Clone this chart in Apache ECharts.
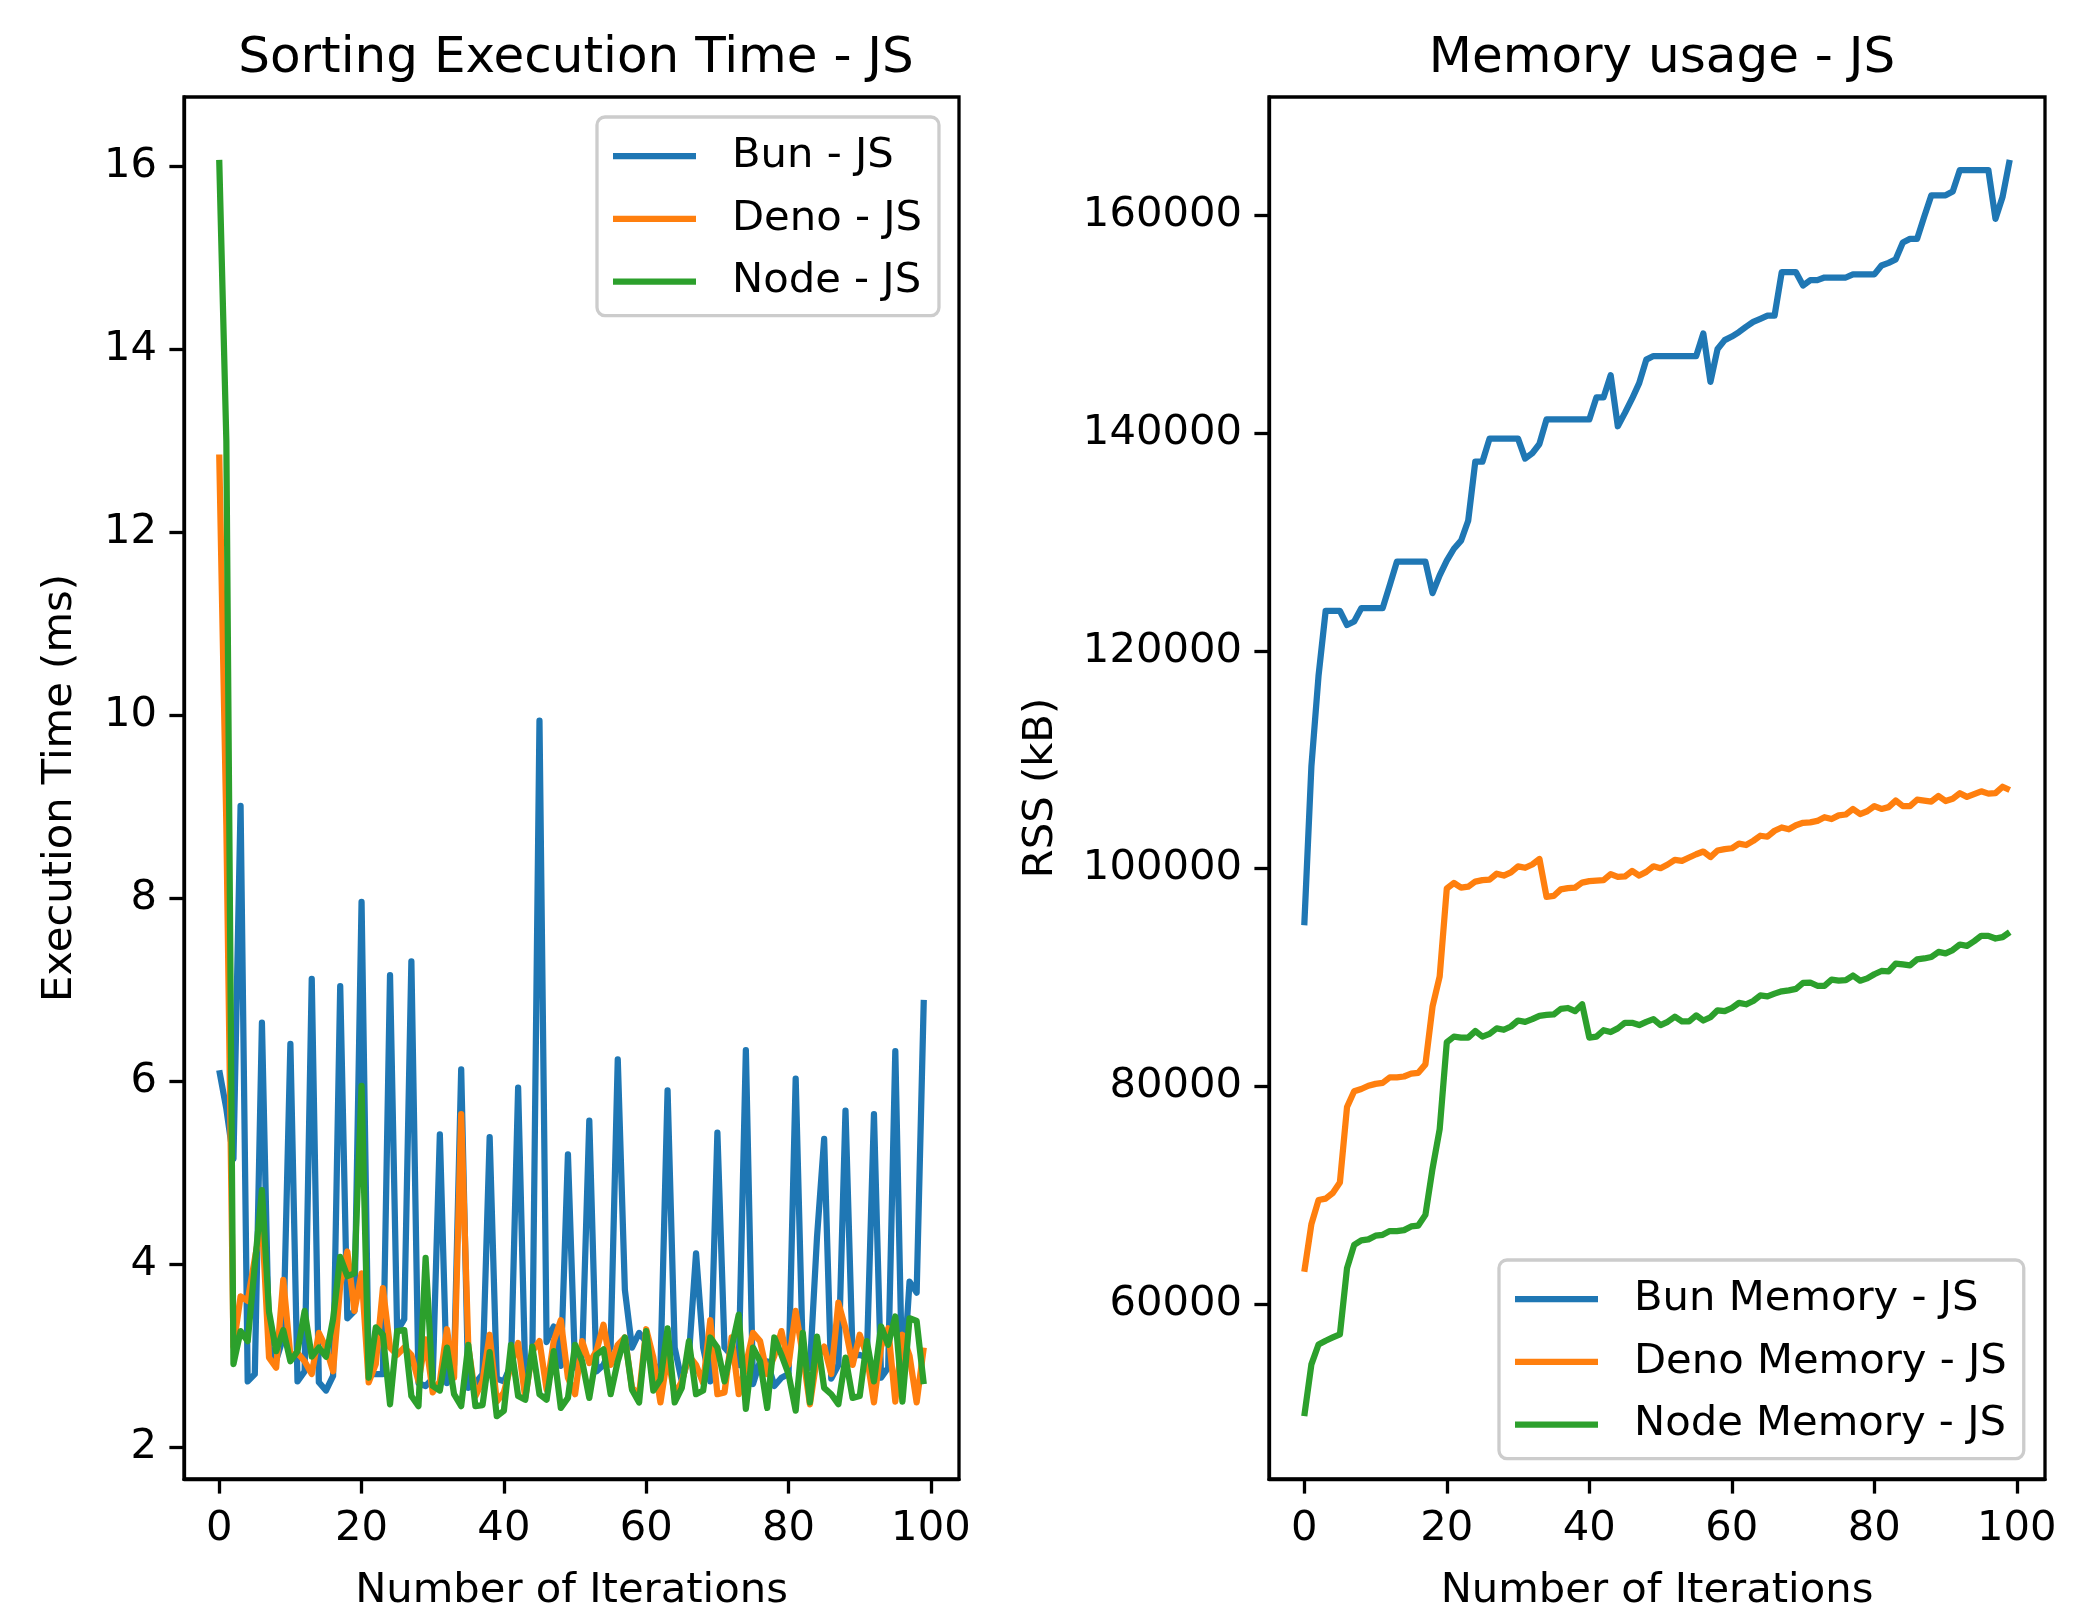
<!DOCTYPE html>
<html>
<head>
<meta charset="utf-8">
<script src="https://cdn.jsdelivr.net/npm/echarts@6/dist/echarts.min.js"></script>
<style>
html,body{margin:0;padding:0;background:#fff;}
#chart{width:2084px;height:1620px;}
</style>
</head>
<body>
<div id="chart"></div>
<script>
// ---------- DATA ----------
const iterations = Array.from({length: 100}, (_, i) => i);

const bunTime = [6.12,5.7,5.15,9.01,2.72,2.8,6.64,3.1,2.95,3.2,
6.41,2.72,2.83,7.12,2.71,2.62,2.78,7.04,3.41,3.49,
7.96,2.8,2.8,2.8,7.16,3.27,3.4,7.31,2.7,2.67,
2.75,5.42,2.7,2.9,6.13,2.65,2.7,2.8,5.39,2.75,
2.72,2.9,5.93,2.8,3.0,9.94,3.15,3.32,2.89,5.2,
2.87,3.0,5.57,2.83,2.9,3.1,6.24,3.72,3.09,3.25,
3.15,2.9,2.85,5.9,3.09,2.72,3.0,4.12,3.09,2.72,
5.44,3.09,3.0,2.9,6.34,2.69,2.94,2.94,2.67,2.76,
2.8,6.03,3.0,2.87,4.3,5.37,2.75,2.9,5.68,3.0,
3.01,2.98,5.64,2.76,2.87,6.33,2.6,3.81,3.69,6.89];

const denoTime = [12.85,8.8,3.1,3.65,3.6,4.06,4.5,2.98,2.87,3.83,
3.0,3.03,2.94,2.8,3.25,3.09,2.83,3.77,4.14,3.49,
3.9,2.71,2.91,3.74,3.09,3.01,3.09,3.01,2.72,3.18,
2.6,2.72,3.29,2.76,5.64,3.1,2.56,2.72,3.23,2.5,
2.6,2.9,3.14,2.54,3.05,3.16,2.63,3.16,3.39,2.76,
2.58,3.16,2.92,3.05,3.34,2.9,3.12,3.2,2.65,2.58,
3.29,2.98,2.49,3.0,2.58,2.72,3.0,2.9,2.7,3.39,
2.58,2.6,3.2,2.58,2.9,3.25,3.16,2.8,3.0,3.27,
2.9,3.49,3.01,2.47,2.98,3.1,2.8,3.58,3.3,2.9,
3.23,3.0,2.49,3.1,3.3,2.5,3.23,3.0,2.49,3.09];

const nodeTime = [16.07,13.0,2.91,3.27,3.16,3.99,4.81,3.48,3.05,3.28,
2.94,3.05,3.49,2.99,3.09,2.99,3.4,4.08,3.87,3.9,
5.95,2.76,3.31,3.23,2.47,3.27,3.28,2.56,2.45,4.07,
2.67,2.62,3.09,2.58,2.45,3.12,2.45,2.46,3.04,2.34,
2.40,3.12,2.56,2.52,3.10,2.58,2.52,3.05,2.43,2.54,
3.12,2.94,2.54,3.01,3.07,2.58,2.94,3.2,2.63,2.49,
3.27,2.62,2.74,3.3,2.49,2.65,3.16,2.58,2.62,3.2,
3.09,2.72,3.09,3.45,2.42,3.09,2.94,2.43,3.2,3.01,
2.8,2.4,3.25,2.49,3.21,2.65,2.58,2.47,2.98,2.54,
2.56,3.16,2.72,3.32,3.12,3.43,2.5,3.41,3.38,2.69];

const bunMem = [94800,109400,117700,123670,123670,123670,122370,122700,123920,123920,
123920,123920,126040,128200,128200,128200,128200,128200,125300,126940,
128280,129380,130120,131950,137370,137370,139490,139490,139490,139490,
139490,137660,138150,139000,141250,141250,141250,141250,141250,141250,
141250,143280,143280,145320,140630,141860,143160,144590,146750,147080,
147080,147080,147080,147080,147080,147080,149150,144710,147730,148540,
148870,149280,149770,150220,150500,150790,150790,154780,154780,154780,
153560,154050,154050,154290,154290,154290,154290,154580,154580,154580,
154580,155390,155640,155960,157510,157840,157840,159880,161840,161840,
161840,162200,164160,164160,164160,164160,164160,159680,161710,165100];

const denoMem = [62970,67350,69560,69690,70200,71180,78110,79550,79760,80060,
80230,80320,80830,80830,80910,81170,81250,82020,87330,90090,
98170,98680,98260,98340,98810,98940,98980,99530,99360,99660,
100210,100080,100380,100890,97410,97490,98090,98210,98260,98720,
98850,98890,98940,99490,99240,99280,99790,99360,99700,100210,
100040,100380,100810,100720,101020,101320,101570,101060,101660,101790,
101870,102300,102170,102550,103020,102930,103480,103780,103610,103990,
104210,104250,104380,104720,104550,104890,104970,105480,105010,105270,
105740,105480,105650,106250,105740,105740,106330,106250,106160,106670,
106210,106420,106930,106590,106840,107100,106890,106930,107520,107220];

const nodeMem = [49710,54470,56300,56640,56940,57230,63310,65440,65860,65950,
66290,66370,66710,66710,66800,67140,67220,68200,72450,76060,
84060,84570,84480,84480,85080,84570,84820,85330,85200,85500,
86050,85930,86180,86480,86560,86610,87120,87200,86910,87540,
84480,84570,85160,84990,85330,85840,85840,85630,85930,86180,
85630,85930,86400,85970,85970,86520,86050,86350,86990,86910,
87200,87670,87540,87840,88350,88270,88520,88730,88820,88950,
89500,89540,89240,89240,89800,89710,89750,90180,89710,89920,
90300,90600,90560,91280,91200,91110,91670,91750,91880,92350,
92220,92520,93030,92900,93330,93830,93830,93580,93710,94170];

const timeNames = ['Bun - JS', 'Deno - JS', 'Node - JS'];
const memNames = ['Bun Memory - JS', 'Deno Memory - JS', 'Node Memory - JS'];
const xTicks = [0, 20, 40, 60, 80, 100];
const timeTicks = [2, 4, 6, 8, 10, 12, 14, 16];
const memTicks = [60000, 80000, 100000, 120000, 140000, 160000];

// ---------- HELPERS ----------
const colors = ['#1f77b4', '#ff7f0e', '#2ca02c'];
const FONT = 'DejaVu Sans';
function padRange(arrs) {
  const all = [].concat(...arrs);
  const lo = Math.min(...all), hi = Math.max(...all), m = (hi - lo) * 0.05;
  return [lo - m, hi + m];
}
const xr = padRange([iterations]);
const tr = padRange([bunTime, denoTime, nodeTime]);
const mr = padRange([bunMem, denoMem, nodeMem]);
const pairs = arr => arr.map((v, i) => [iterations[i], v]);

const G1 = {left: 184, top: 97, width: 775, height: 1382};
const G2 = {left: 1269, top: 97, width: 776, height: 1382};

function xAxisCfg(gi) {
  return {
    type: 'value', gridIndex: gi, min: xr[0], max: xr[1],
    name: 'Number of Iterations', nameLocation: 'middle', nameGap: 91,
    nameTextStyle: {fontFamily: FONT, fontSize: 41.7, color: '#000'},
    axisLine: {show: true, onZero: false, lineStyle: {color: '#000', width: 3.3}},
    axisTick: {show: true, inside: false, length: 14.6, customValues: xTicks, lineStyle: {color: '#000', width: 3.3}},
    axisLabel: {show: true, customValues: xTicks, margin: 29, fontFamily: FONT, fontSize: 41.7, color: '#000', formatter: v => String(v)},
    splitLine: {show: false}
  };
}
function yAxisCfg(gi, rng, ticks, name, gap) {
  return {
    type: 'value', gridIndex: gi, min: rng[0], max: rng[1],
    name: name, nameLocation: 'middle', nameGap: gap, nameRotate: 90, nameMoveOverlap: false,
    nameTextStyle: {fontFamily: FONT, fontSize: 41.7, color: '#000'},
    axisLine: {show: true, onZero: false, lineStyle: {color: '#000', width: 3.3}},
    axisTick: {show: true, inside: false, length: 14.6, customValues: ticks, lineStyle: {color: '#000', width: 3.3}},
    axisLabel: {show: true, customValues: ticks, margin: 27, fontFamily: FONT, fontSize: 41.7, color: '#000', formatter: v => String(v)},
    splitLine: {show: false}
  };
}
function lineSeries(name, data, color, gi) {
  return {
    name: name, type: 'line', xAxisIndex: gi, yAxisIndex: gi,
    data: pairs(data), showSymbol: false, symbol: 'none', animation: false,
    lineStyle: {color: color, width: 6.25, join: 'round', cap: 'butt'},
    itemStyle: {color: color}
  };
}
function legendCfg(names, left, top) {
  return {
    data: names, orient: 'vertical', left: left, top: top,
    icon: 'rect', itemWidth: 83, itemHeight: 6.25, itemGap: 20.8,
    padding: [18, 17, 13, 16],
    backgroundColor: 'rgba(255,255,255,0.8)', borderColor: '#cccccc', borderWidth: 3.3, borderRadius: 8,
    textStyle: {fontFamily: FONT, fontSize: 41.7, color: '#000', lineHeight: 41.7, padding: [0, 0, 0, 31]},
    selectedMode: false
  };
}

const chart = echarts.init(document.getElementById('chart'), null, {renderer: 'canvas'});
chart.setOption({
  backgroundColor: '#ffffff',
  animation: false,
  title: [
    {text: 'Sorting Execution Time - JS', left: 571, top: 29, textAlign: 'center',
     textStyle: {fontFamily: FONT, fontSize: 50, fontWeight: 'normal', color: '#000'}},
    {text: 'Memory usage - JS', left: 1657, top: 29, textAlign: 'center',
     textStyle: {fontFamily: FONT, fontSize: 50, fontWeight: 'normal', color: '#000'}}
  ],
  grid: [
    Object.assign({show: true, borderColor: '#000', borderWidth: 3.3, backgroundColor: 'transparent', containLabel: false}, G1),
    Object.assign({show: true, borderColor: '#000', borderWidth: 3.3, backgroundColor: 'transparent', containLabel: false}, G2)
  ],
  xAxis: [xAxisCfg(0), xAxisCfg(1)],
  yAxis: [
    yAxisCfg(0, tr, timeTicks, 'Execution Time (ms)', 103),
    yAxisCfg(1, mr, memTicks, 'RSS (kB)', 207)
  ],
  legend: [legendCfg(timeNames, 597, 117), legendCfg(memNames, 1499, 1260)],
  series: [
    lineSeries(timeNames[0], bunTime, colors[0], 0),
    lineSeries(timeNames[1], denoTime, colors[1], 0),
    lineSeries(timeNames[2], nodeTime, colors[2], 0),
    lineSeries(memNames[0], bunMem, colors[0], 1),
    lineSeries(memNames[1], denoMem, colors[1], 1),
    lineSeries(memNames[2], nodeMem, colors[2], 1)
  ]
});
</script>
</body>
</html>
